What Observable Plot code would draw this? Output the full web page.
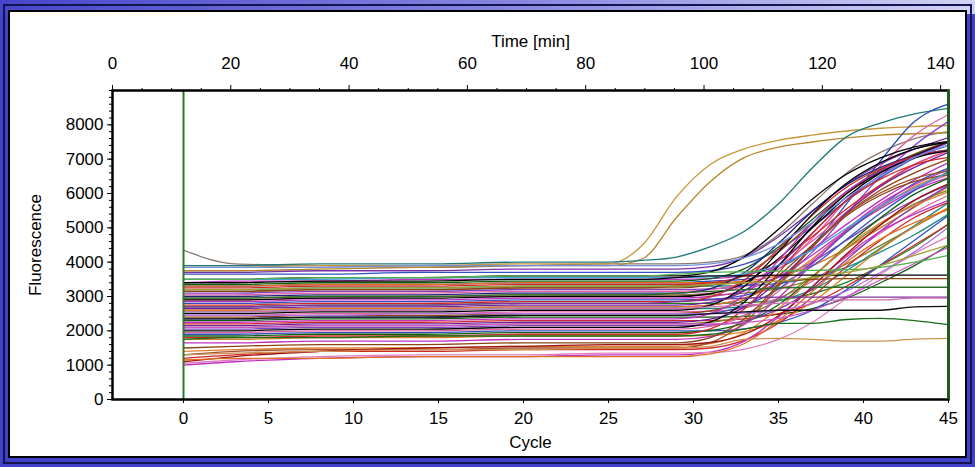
<!DOCTYPE html>
<html>
<head>
<meta charset="utf-8">
<script src="https://cdn.jsdelivr.net/npm/d3@7"></script>
<script src="https://cdn.jsdelivr.net/npm/@observablehq/plot@0.6"></script>
<style>
  html, body { margin: 0; padding: 0; }
  #wrap { position: relative; width: 975px; height: 467px; overflow: hidden;
    background: linear-gradient(to right, #4646cc, #8a8ae2 55%, #d2d2f4) top / 100% 14px no-repeat, #4242c8; }
  #outerline { position: absolute; left: 3px; top: 4px; right: 3px; bottom: 3px; border: 2px solid #141450; }
  #panel { position: absolute; left: 8px; top: 10px; width: 959px; height: 448px; border: 2px solid #000;
    background: #fff; box-sizing: border-box; }
  #chart { position: absolute; left: 0; top: 0; }
</style>
</head>
<body>
<div id="wrap">
  <div id="outerline"></div>
  <div id="panel"></div>
  <div id="chart"></div>
</div>
<script>
// ---- data ----
const cycles = [0, 3, 8, 14, 20, 25, 27, 29, 31, 33, 35, 37, 39, 41, 43, 45];

const wellColors = [
  "#8a7a70", "#c8963c", "#b8862b", "#207878", "#2848b8", "#e060a8", "#8a40d0",
  "#7a30a8", "#3050c0", "#000000", "#c030c0", "#106010", "#e07020", "#d02828", "#1a8a8a",
  "#8b4513", "#8040c0", "#e060a0", "#202080", "#808020", "#000000", "#c030c0", "#3050c0",
  "#d02828", "#208020", "#7020a0", "#e08020", "#1a8a8a", "#000000", "#e060a0", "#8b4513",
  "#3050c0", "#106010", "#c030c0", "#d02828", "#7020a0", "#808020", "#8040c0", "#000000",
  "#e060a0", "#3050c0", "#106010", "#d02828", "#e08020", "#c030c0", "#8b4513", "#e08030",
  "#a0522d", "#d02828", "#c030c0", "#e080c0", "#a01010", "#e07020", "#40a0e0", "#7090e0",
  "#b070e0", "#d050d0",
  "#d09050", "#1a6e1a", "#101010", "#8030a0", "#2a6a2a", "#8b4513", "#000000", "#50b050",
  "#a0a030", "#d070b0"
];

const fluorescence = [
  [4350,3950,3900,3850,3900,3950,3950,3950,4000,4200,4800,5700,6600,7200,7600,7800],
  [3850,3850,3900,3900,3950,3950,4500,5900,6850,7300,7550,7700,7820,7900,7950,7980],
  [3750,3750,3800,3850,3900,3900,4100,5300,6350,7050,7350,7500,7620,7700,7740,7770],
  [3900,3900,3950,3950,4000,4000,4050,4150,4450,4900,5700,6750,7650,8050,8320,8480],
  [3300,3300,3350,3350,3400,3400,3400,3400,3450,3500,3800,4500,5700,6950,8100,8600],
  [2900,2900,2950,3000,3000,3050,3050,3050,3100,3300,3800,4700,5800,6800,7700,8300],
  [2600,2600,2650,2650,2700,2700,2700,2700,2750,2950,3450,4300,5400,6500,7400,8100],
  [3700,3700,3750,3750,3800,3800,3800,3800,3870,4140,4740,5500,6270,6860,7290,7630],
  [3650,3650,3650,3700,3700,3700,3700,3700,3750,3940,4370,5030,5790,6460,7030,7400],
  [3500,3500,3550,3550,3600,3600,3600,3600,3720,4160,4960,5840,6560,7040,7360,7520],
  [3400,3450,3450,3500,3500,3500,3500,3500,3520,3620,3900,4400,5100,5800,6400,6900],
  [3350,3350,3400,3400,3450,3450,3450,3450,3520,3810,4440,5250,6060,6690,7140,7500],
  [3300,3300,3350,3350,3400,3400,3400,3400,3400,3450,3600,3900,4400,5000,5600,6200],
  [3250,3250,3300,3300,3350,3350,3350,3350,3400,3600,4050,4750,5550,6250,6850,7250],
  [3200,3200,3250,3250,3300,3300,3300,3300,3300,3320,3380,3550,3850,4300,4800,5400],
  [3150,3150,3200,3200,3250,3250,3250,3250,3330,3630,4300,5150,6000,6670,7150,7520],
  [3100,3100,3150,3150,3200,3200,3200,3200,3220,3310,3560,4010,4640,5270,5810,6260],
  [3050,3050,3100,3100,3150,3150,3150,3150,3200,3410,3890,4620,5460,6200,6830,7250],
  [3000,3000,3050,3050,3100,3100,3100,3100,3230,3700,4550,5480,6250,6760,7100,7270],
  [2950,2950,3000,3000,3050,3050,3050,3050,3050,3100,3230,3500,3950,4490,5030,5570],
  [2900,2900,2950,2950,3000,3000,3000,3000,3080,3400,4100,5000,5900,6600,7100,7500],
  [2850,2850,2900,2900,2950,2950,2950,2950,3000,3180,3580,4210,4930,5560,6100,6460],
  [2800,2800,2850,2850,2900,2900,2900,2900,2920,3030,3340,3890,4660,5430,6090,6640],
  [2750,2750,2800,2800,2850,2850,2850,2850,2990,3480,4380,5370,6180,6720,7080,7260],
  [2700,2700,2750,2750,2800,2800,2800,2800,2800,2820,2890,3080,3410,3900,4450,5110],
  [2650,2650,2700,2700,2750,2750,2750,2750,2830,3170,3910,4850,5800,6530,7060,7480],
  [2600,2600,2650,2650,2700,2700,2700,2700,2750,2950,3400,4100,4900,5600,6200,6600],
  [2550,2550,2600,2600,2650,2650,2650,2650,2650,2710,2870,3200,3750,4410,5070,5730],
  [2500,2500,2550,2550,2600,2600,2600,2600,2750,3300,4300,5400,6300,6900,7300,7500],
  [2450,2450,2500,2500,2550,2550,2550,2550,2570,2670,2950,3450,4150,4850,5450,5950],
  [2400,2400,2450,2450,2500,2500,2500,2500,2580,2900,3600,4500,5400,6100,6600,7000],
  [2350,2350,2400,2400,2450,2450,2450,2450,2510,2730,3220,3990,4870,5640,6300,6740],
  [2300,2300,2350,2350,2400,2400,2400,2400,2400,2420,2480,2650,2950,3400,3900,4500],
  [2250,2250,2300,2300,2350,2350,2350,2350,2500,3050,4050,5150,6050,6650,7050,7250],
  [2200,2200,2250,2250,2300,2300,2300,2300,2300,2350,2500,2800,3300,3900,4500,5100],
  [2150,2150,2200,2200,2250,2250,2250,2250,2340,2690,3460,4450,5440,6210,6760,7200],
  [2100,2100,2150,2150,2200,2200,2200,2200,2250,2450,2900,3600,4400,5100,5700,6100],
  [2050,2050,2100,2100,2150,2150,2150,2150,2170,2290,2630,3230,4070,4910,5630,6230],
  [2000,2000,2050,2050,2100,2100,2100,2100,2260,2840,3890,5040,5990,6620,7040,7250],
  [1950,1950,2000,2000,2050,2050,2050,2050,2130,2450,3150,4050,4950,5650,6150,6550],
  [1900,1900,1950,1950,2000,2000,2000,2000,2000,2060,2240,2600,3200,3920,4640,5360],
  [1850,1850,1900,1900,1950,1950,1950,1950,2010,2240,2760,3560,4480,5290,5980,6440],
  [1800,1800,1850,1850,1900,1900,1900,1900,2060,2640,3690,4840,5790,6420,6840,7050],
  [1750,1750,1800,1800,1850,1850,1850,1850,1870,1980,2290,2840,3610,4380,5040,5590],
  [1650,1650,1700,1700,1750,1750,1750,1750,1840,2190,2960,3950,4940,5710,6260,6700],
  [1500,1550,1600,1600,1650,1650,1650,1650,1800,2350,3350,4450,5350,5950,6350,6550],
  [1400,1450,1500,1500,1550,1550,1550,1550,1630,1950,2650,3550,4450,5150,5650,6050],
  [1300,1400,1450,1450,1500,1500,1500,1500,1660,2240,3290,4440,5390,6020,6440,6650],
  [1200,1300,1400,1400,1450,1450,1450,1450,1500,1730,2220,2990,3870,4640,5300,5740],
  [1000,1100,1200,1250,1250,1300,1300,1300,1380,1700,2400,3300,4200,4900,5400,5800],
  [1050,1150,1250,1300,1300,1350,1350,1350,1370,1470,1750,2250,2950,3650,4250,4750],
  [1100,1250,1400,1500,1550,1600,1600,1600,1660,1900,2440,3280,4240,5080,5800,6280],
  [1150,1200,1200,1250,1250,1250,1250,1250,1330,1630,2300,3150,4000,4670,5150,5530],
  [3500,3500,3500,3550,3550,3550,3550,3550,3570,3660,3910,4360,4990,5620,6160,6610],
  [3850,3850,3850,3900,3900,3900,3900,3900,3950,4130,4530,5160,5880,6510,7050,7410],
  [2450,2450,2450,2500,2500,2500,2500,2500,2500,2520,2600,2800,3160,3700,4300,5020],
  [2100,2100,2150,2150,2200,2200,2200,2200,2200,2240,2360,2600,3000,3480,3960,4440],
  [1300,1350,1400,1450,1450,1500,1500,1500,1550,1750,1780,1750,1700,1700,1760,1780],
  [1750,1800,1800,1850,1850,1850,1850,1850,1900,2050,2220,2220,2330,2360,2300,2180],
  [2350,2350,2400,2400,2450,2450,2450,2450,2500,2550,2600,2600,2600,2600,2700,2710],
  [2700,2700,2750,2750,2800,2800,2800,2850,2900,2950,2980,2980,2980,2980,2980,2980],
  [2950,2950,3000,3000,3050,3050,3050,3100,3150,3200,3250,3270,3270,3270,3270,3270],
  [3150,3150,3200,3200,3250,3250,3250,3300,3350,3400,3450,3500,3520,3520,3520,3520],
  [3400,3400,3450,3450,3500,3500,3500,3550,3600,3600,3620,3620,3620,3620,3620,3620],
  [3500,3500,3550,3550,3600,3600,3600,3650,3700,3720,3740,3760,3780,3850,4000,4200],
  [3200,3200,3250,3250,3300,3300,3300,3300,3350,3400,3450,3550,3700,3900,4200,4500],
  [2550,2550,2600,2600,2650,2650,2650,2650,2700,2750,2800,2850,2900,2900,2950,2950]
];

const cycleTicks = [0, 5, 10, 15, 20, 25, 30, 35, 40, 45];
const timeMajor = [0, 20, 40, 60, 80, 100, 120, 140];
const timeMinor = [5, 10, 15, 25, 30, 35, 45, 50, 55, 65, 70, 75, 85, 90, 95, 105, 110, 115, 125, 130, 135];
const yMajor = [0, 1000, 2000, 3000, 4000, 5000, 6000, 7000, 8000];
const yMinor = d3.range(0, 9001, 200);
const markerCycles = [0, 45];

// ---- layout of the two x scales (cycle below, minutes above) ----
const xMin = -4.176;          // cycle at the left frame edge (time 0)
const minPerCycle = 2.874;    // minutes per cycle
const toCycle = t => xMin + t / minPerCycle;

const rows = [];
fluorescence.forEach((vals, w) => {
  vals.forEach((v, i) => rows.push({well: w, cycle: cycles[i], value: v, color: wellColors[w % wellColors.length]}));
});

const chart = Plot.plot({
  width: 975,
  height: 467,
  marginLeft: 112,
  marginRight: 27,
  marginTop: 90,
  marginBottom: 68,
  x: {domain: [xMin, 45]},
  y: {domain: [0, 9000]},
  color: {type: "identity"},
  style: {background: "transparent", fontFamily: "'Liberation Sans', Arial, sans-serif", fontSize: "17px", color: "#000", overflow: "visible"},
  marks: [
    Plot.line(rows, {x: "cycle", y: "value", z: "well", stroke: "color", strokeWidth: 1.3, curve: "monotone-x"}),
    Plot.ruleX([markerCycles[0]], {stroke: "#2a7a2a", strokeWidth: 2}),
    Plot.frame({stroke: "#000", strokeWidth: 2.5}),
    Plot.ruleX([markerCycles[1]], {stroke: "#1f5a1f", strokeWidth: 3}),
    Plot.axisY(yMajor, {tickSize: 5, tickPadding: 4, tickFormat: d => String(d), label: "Fluorescence", labelAnchor: "center", labelOffset: 84, labelArrow: "none", fontSize: 17}),
    Plot.axisY(yMinor, {tickSize: 3, text: null, label: null}),
    Plot.axisX(cycleTicks, {anchor: "bottom", tickSize: 4, tickPadding: 8, tickFormat: d => String(d), label: "Cycle", labelAnchor: "center", labelOffset: 48, labelArrow: "none"}),
    Plot.axisX(timeMajor.map(toCycle), {anchor: "top", tickSize: 6, tickPadding: 16, tickFormat: d => String(Math.round((d - xMin) * minPerCycle)), label: "Time [min]", labelAnchor: "center", labelOffset: 56, labelArrow: "none"}),
    Plot.axisX(timeMinor.map(toCycle), {anchor: "top", tickSize: 3, text: null, label: null})
  ]
});
document.getElementById("chart").appendChild(chart);
</script>
</body>
</html>
